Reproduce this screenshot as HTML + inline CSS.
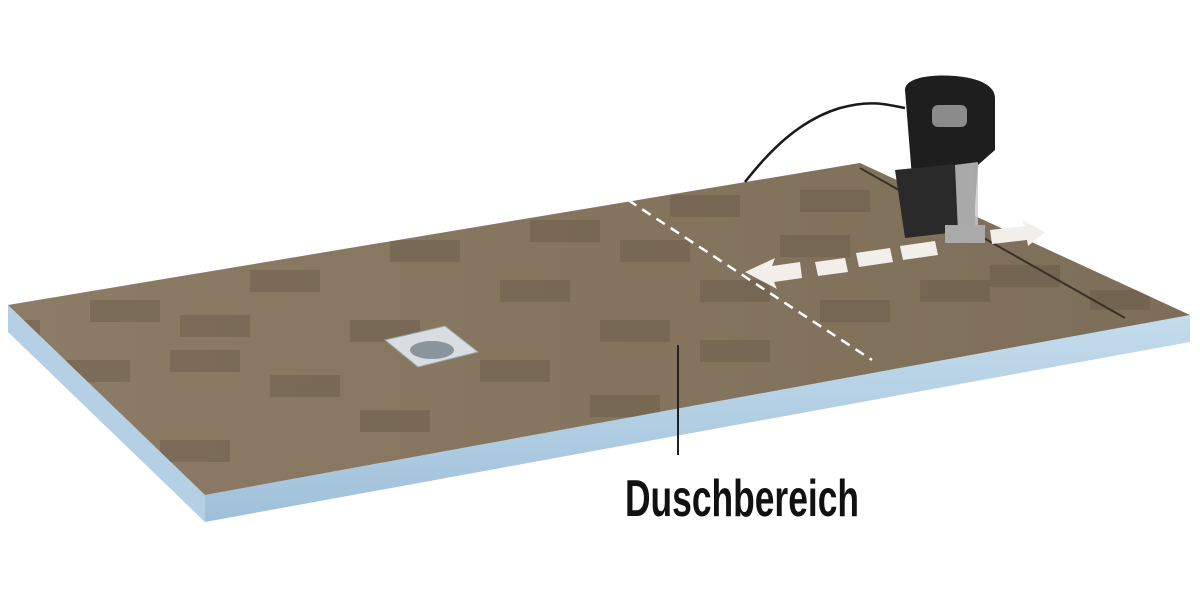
<!DOCTYPE html>
<html><head><meta charset="utf-8"><style>
html,body{margin:0;padding:0;background:#fff;width:1200px;height:600px;overflow:hidden}
</style></head><body>
<svg width="1200" height="600" viewBox="0 0 1200 600" xmlns="http://www.w3.org/2000/svg">
<defs>
<linearGradient id="top" x1="0" y1="0" x2="1" y2="0">
<stop offset="0" stop-color="#8c7c66"/><stop offset="0.5" stop-color="#85755f"/><stop offset="1" stop-color="#7d6e59"/>
</linearGradient>
<linearGradient id="side" x1="0" y1="0" x2="0" y2="1">
<stop offset="0" stop-color="#c4dcec"/><stop offset="1" stop-color="#9fc0da"/>
</linearGradient>
<clipPath id="tc"><polygon points="8,305 860,163 1190,315 205,495"/></clipPath>
</defs>
<polygon points="8,305 205,495 205,522 8,332" fill="#b5d0e4"/>
<polygon points="205,495 1190,315 1190,342 205,522" fill="url(#side)"/>
<polygon points="8,305 860,163 1190,315 205,495" fill="url(#top)"/>
<g fill="#5e5242" opacity="0.35" clip-path="url(#tc)">
<rect x="90" y="300" width="70" height="22"/><rect x="180" y="315" width="70" height="22"/>
<rect x="60" y="360" width="70" height="22"/><rect x="170" y="350" width="70" height="22"/>
<rect x="270" y="375" width="70" height="22"/>
<rect x="160" y="440" width="70" height="22"/><rect x="350" y="320" width="70" height="22"/>
<rect x="390" y="240" width="70" height="22"/><rect x="360" y="410" width="70" height="22"/>
<rect x="500" y="280" width="70" height="22"/><rect x="480" y="360" width="70" height="22"/>
<rect x="530" y="220" width="70" height="22"/><rect x="600" y="320" width="70" height="22"/>
<rect x="620" y="240" width="70" height="22"/><rect x="700" y="280" width="70" height="22"/>
<rect x="670" y="195" width="70" height="22"/><rect x="590" y="395" width="70" height="22"/>
<rect x="780" y="235" width="70" height="22"/><rect x="820" y="300" width="70" height="22"/>
<rect x="800" y="190" width="70" height="22"/><rect x="920" y="280" width="70" height="22"/>
<rect x="990" y="265" width="70" height="22"/><rect x="1090" y="290" width="60" height="20"/>
<rect x="700" y="340" width="70" height="22"/><rect x="10" y="320" width="30" height="20"/>
<rect x="250" y="270" width="70" height="22"/>
</g>
<line x1="860" y1="168" x2="1125" y2="318" stroke="#3a3128" stroke-width="2"/>
<line x1="628" y1="200" x2="872" y2="360" stroke="#fff" stroke-width="2.5" stroke-dasharray="10,7"/>
<polygon points="385,340 445,326 478,352 418,367" fill="#d8dde2" stroke="#9aa3ab"/>
<ellipse cx="432" cy="350" rx="22" ry="9" fill="#8a949c"/>
<polygon points="745,272 775,258 772,266 800,262 802,278 774,282 777,289" fill="#f2efea"/>
<polygon points="815,262 845,258 848,272 818,276" fill="#f2efea"/>
<polygon points="856,253 890,248 893,262 859,267" fill="#f2efea"/>
<polygon points="900,246 935,241 938,255 903,260" fill="#f2efea"/>
<polygon points="990,230 1025,226 1022,220 1045,232 1028,246 1027,240 992,244" fill="#f2efea"/>
<path d="M745,182 C770,150 800,120 840,108 C870,100 885,104 905,108" fill="none" stroke="#1a1a1a" stroke-width="2.5"/>
<path d="M905,90 C905,78 930,74 955,76 C980,78 995,86 995,98 L995,150 L978,165 L975,205 L915,215 Z" fill="#1e1e1e"/>
<rect x="932" y="105" width="35" height="22" rx="6" fill="#8b8b8b"/>
<polygon points="895,170 975,162 975,230 905,238" fill="#2a2a2a"/>
<polygon points="955,165 978,162 978,228 958,232" fill="#c9c9c9" opacity="0.8"/>
<rect x="945" y="225" width="40" height="18" fill="#aaa"/>
<line x1="678" y1="345" x2="678" y2="455" stroke="#222" stroke-width="2"/>
<text x="625" y="516" font-family="'Liberation Sans Narrow','Liberation Sans',sans-serif" font-weight="bold" font-size="52" fill="#111" textLength="234" lengthAdjust="spacingAndGlyphs">Duschbereich</text>
</svg>
</body></html>
